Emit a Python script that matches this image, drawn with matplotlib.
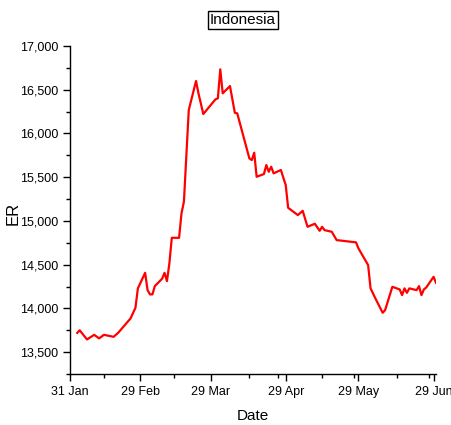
import numpy as np
import pandas as pd
import matplotlib
matplotlib.use('Agg')
import matplotlib.pyplot as plt
import matplotlib.dates as mdates
from matplotlib.ticker import MultipleLocator, FuncFormatter, FixedLocator

plt.rcParams['font.family'] = ['Liberation Sans', 'DejaVu Sans']

country = 'Indonesia'

dates = ['2020-02-03', '2020-02-04', '2020-02-07', '2020-02-10', '2020-02-12',
         '2020-02-14', '2020-02-18', '2020-02-20', '2020-02-25', '2020-02-27',
         '2020-02-28', '2020-03-02', '2020-03-03', '2020-03-04', '2020-03-05',
         '2020-03-06', '2020-03-09', '2020-03-10', '2020-03-11', '2020-03-12',
         '2020-03-13', '2020-03-16', '2020-03-17', '2020-03-18', '2020-03-20',
         '2020-03-23', '2020-03-24', '2020-03-26', '2020-03-31', '2020-04-01',
         '2020-04-02', '2020-04-03', '2020-04-06', '2020-04-08', '2020-04-09',
         '2020-04-14', '2020-04-15', '2020-04-16', '2020-04-17', '2020-04-20',
         '2020-04-21', '2020-04-22', '2020-04-23', '2020-04-24', '2020-04-27',
         '2020-04-29', '2020-04-30', '2020-05-04', '2020-05-06', '2020-05-08',
         '2020-05-11', '2020-05-13', '2020-05-14', '2020-05-15', '2020-05-18',
         '2020-05-20', '2020-05-28', '2020-05-29', '2020-06-02', '2020-06-03',
         '2020-06-05', '2020-06-08', '2020-06-09', '2020-06-12', '2020-06-15',
         '2020-06-16', '2020-06-17', '2020-06-18', '2020-06-19', '2020-06-22',
         '2020-06-23', '2020-06-24', '2020-06-25', '2020-06-26', '2020-06-29',
         '2020-06-30']

er = [13720, 13750, 13645, 13698, 13657,
      13698, 13675, 13725, 13886, 14007,
      14229, 14407, 14209, 14160, 14160,
      14255, 14339, 14407, 14312, 14515,
      14807, 14807, 15086, 15220, 16268,
      16600, 16459, 16222, 16390, 16402,
      16733, 16459, 16542, 16237, 16230,
      15715, 15696, 15780, 15505, 15536,
      15639, 15562, 15620, 15544, 15582,
      15410, 15150, 15067, 15116, 14933,
      14968, 14887, 14933, 14895, 14876,
      14781, 14755, 14686, 14495, 14229,
      14114, 13950, 13980, 14247, 14217,
      14152, 14229, 14178, 14229, 14209,
      14255, 14152, 14217, 14240, 14361,
      14293]

major_ticks = ['2020-01-31', '2020-02-29', '2020-03-29', '2020-04-29',
               '2020-05-29', '2020-06-29']
minor_ticks = ['2020-02-14', '2020-03-14', '2020-04-14', '2020-04-26',
               '2020-05-14', '2020-05-27', '2020-06-14', '2020-06-27']

x = pd.to_datetime(dates)

fig = plt.figure(figsize=(4.52, 4.25), dpi=100)
ax = fig.add_axes([70 / 452, 1 - 374 / 425, 366 / 452, 328 / 425])

ax.plot(x, er, color='#ff0000', lw=1.6)

ax.set_xlim(pd.Timestamp('2020-01-31'), pd.Timestamp('2020-06-30'))
ax.set_ylim(13250, 17000)

ax.xaxis.set_major_locator(FixedLocator(mdates.date2num(pd.to_datetime(major_ticks))))
ax.xaxis.set_minor_locator(FixedLocator(mdates.date2num(pd.to_datetime(minor_ticks))))
ax.xaxis.set_major_formatter(mdates.DateFormatter('%d %b'))

ax.yaxis.set_major_locator(MultipleLocator(500))
ax.yaxis.set_minor_locator(MultipleLocator(250))
ax.yaxis.set_major_formatter(FuncFormatter(lambda v, p: f'{v:,.0f}'))

for side in ['top', 'right']:
    ax.spines[side].set_visible(False)
for side in ['left', 'bottom']:
    ax.spines[side].set_linewidth(1.0)

ax.tick_params(which='major', direction='out', length=5, width=1, labelsize=9)
ax.tick_params(which='minor', direction='out', length=3, width=1)

ax.set_xlabel('Date', fontsize=11, labelpad=8)
ax.set_ylabel('ER', fontsize=12)
ax.yaxis.set_label_coords(-49 / 366, 0.49)

fig.text(243 / 452, 1 - 20 / 425, country, ha='center', va='center', fontsize=11,
         bbox=dict(boxstyle='square,pad=0.15', fc='white', ec='black', lw=1))

fig.savefig('out.png', dpi=100)
